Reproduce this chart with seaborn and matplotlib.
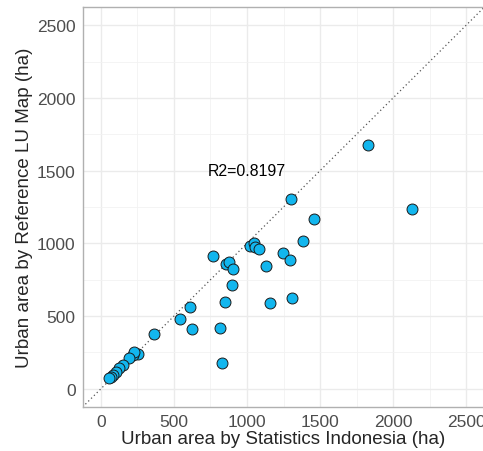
import numpy as np
import pandas as pd
import matplotlib
matplotlib.use("Agg")
import matplotlib.pyplot as plt
import seaborn as sns

# values (ha)
stat_area = [1826, 2130, 1303, 1461, 1384, 1247, 1292, 1130, 1310, 1155,
             769, 1018, 1046, 1055, 1084, 856, 879, 904, 895, 852,
             612, 541, 626, 817, 829, 365, 251, 221, 228, 194,
             153, 121, 103, 84, 68, 53]
ref_area = [1678, 1235, 1308, 1169, 1018, 936, 886, 846, 626, 593,
            915, 982, 1005, 973, 962, 860, 870, 824, 715, 596,
            560, 477, 412, 415, 176, 380, 242, 232, 256, 210,
            164, 142, 119, 96, 80, 73]
ticks = [0, 500, 1000, 1500, 2000, 2500]
minor_ticks = [250, 750, 1250, 1750, 2250]
r2_label = "R2=0.8197"

df = pd.DataFrame({"stat": stat_area, "ref": ref_area})

sns.set_style("white")
plt.rcParams["font.family"] = ["Liberation Sans", "DejaVu Sans"]

fig = plt.figure(figsize=(4.83, 4.52), dpi=100)
ax = fig.add_axes([0.171, 0.0973, 0.832, 0.885])

# grid like ggplot theme_bw
ax.set_xticks(ticks)
ax.set_yticks(ticks)
ax.set_xticks(minor_ticks, minor=True)
ax.set_yticks(minor_ticks, minor=True)
ax.grid(which="major", color="#EBEBEB", lw=1.0)
ax.grid(which="minor", color="#F2F2F2", lw=0.6)
ax.set_axisbelow(True)

ax.axline((0, 0), slope=1, color="#555555", ls=(0, (1, 2.2)), lw=0.9, zorder=2)

sns.scatterplot(data=df, x="stat", y="ref", ax=ax, s=62,
                color="#12B6EE", edgecolor="#1a1a1a", linewidth=0.7, zorder=3)

ax.text(1000, 1500, r2_label, ha="center", va="center", fontsize=11.4, color="black")

ax.set_xlim(-125, 2625)
ax.set_ylim(-125, 2625)

for sp in ax.spines.values():
    sp.set_color("#B0B0B0")
    sp.set_linewidth(1.0)

ax.tick_params(which="major", length=3, width=0.8, color="#555555",
               labelsize=12.5, labelcolor="#4D4D4D", pad=2)
ax.tick_params(which="minor", length=0)

ax.set_xlabel("Urban area by Statistics Indonesia (ha)", fontsize=13.5, labelpad=1)
ax.set_ylabel("Urban area by Reference LU Map (ha)", fontsize=13.5, labelpad=3)

fig.savefig("out.png", dpi=100)
